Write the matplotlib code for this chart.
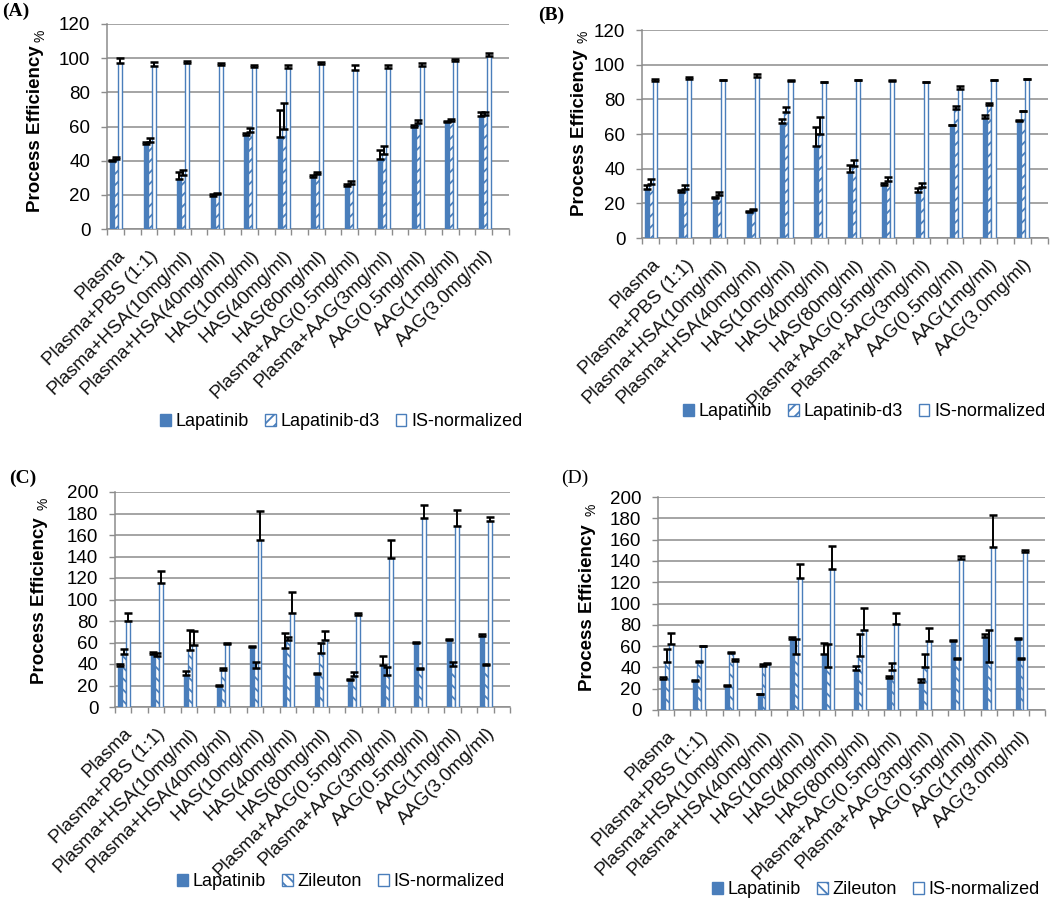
import numpy as np
import matplotlib
matplotlib.use("Agg")
import matplotlib.pyplot as plt
from matplotlib.patches import Patch

plt.rcParams['font.family'] = ['Liberation Sans', 'DejaVu Sans']
plt.rcParams['hatch.linewidth'] = 1.3

labels = ["Plasma", "Plasma+PBS (1:1)", "Plasma+HSA(10mg/ml)", "Plasma+HSA(40mg/ml)",
          "HAS(10mg/ml)", "HAS(40mg/ml)", "HAS(80mg/ml)", "Plasma+AAG(0.5mg/ml)",
          "Plasma+AAG(3mg/ml)", "AAG(0.5mg/ml)", "AAG(1mg/ml)", "AAG(3.0mg/ml)"]

# panel A: lapatinib / lapatinib-d3 / IS-normalized
a_lap = [40, 49.5, 29.5, 19.5, 55, 54, 30.5, 25, 41, 59.5, 62.5, 66]
a_lap_err = [0.5, 1.5, 4, 0.8, 1.4, 15.5, 1.1, 1.5, 5.5, 1.2, 0.7, 2.7]
a_d3 = [41, 51, 31.5, 20.5, 57, 58.5, 32, 26.5, 44, 62, 63, 66.5]
a_d3_err = [1.3, 2, 3, 0.8, 2, 15.5, 1.4, 1.5, 4.6, 2, 1.2, 2.2]
a_is = [97, 95.5, 97, 96, 95, 94.5, 96.5, 93, 94.5, 95.5, 98.5, 101.5]
a_is_err = [3.3, 2.3, 1.3, 1, 0.8, 1.3, 1.3, 2.8, 1.3, 1.5, 1.2, 1.3]

# panel B
b_lap = [28.5, 26.5, 23, 15, 66.5, 53, 38, 30.5, 26.5, 65, 69, 67.5]
b_lap_err = [1.8, 1.3, 0.5, 0.3, 2, 11.3, 4, 1.2, 2.3, 0.3, 2, 0.5]
b_d3 = [31, 28.5, 25, 16, 72.5, 60, 41.5, 33, 29.5, 74.5, 76.5, 73]
b_d3_err = [3, 1.8, 1.3, 0.7, 3, 10, 3.5, 2, 2, 1.7, 1.5, 0.5]
b_is = [90.5, 92, 91, 93, 90.5, 90, 91, 90.5, 90, 86, 91, 91.5]
b_is_err = [1.3, 0.7, 0.2, 1.7, 0.5, 0.2, 0.2, 0.5, 0.2, 1.7, 0.2, 0.3]

# panel C: lapatinib / zileuton / IS-normalized
c_lap = [38.5, 49.5, 29.5, 19.5, 55.5, 55, 30.5, 25, 39, 60, 62, 66.5]
c_lap_err = [1.7, 1.5, 4, 0.9, 1.1, 14, 1.3, 1.3, 8.3, 0.9, 1.7, 1.5]
c_zil = [49, 47, 53, 34, 36, 62, 50, 28.5, 30, 35, 38, 39.5]
c_zil_err = [5, 3.4, 19, 1.9, 5.7, 3.5, 9.6, 3.6, 7.4, 0.9, 3.4, 0.7]
c_is = [80, 115, 58, 58.5, 155, 87, 62, 86, 139, 176, 168, 173]
c_is_err = [7, 11.7, 12.8, 1.2, 27, 20, 8.8, 1.2, 16.8, 12, 15.6, 3.8]

# panel D
d_lap = [29, 27, 23, 15, 66.5, 53, 38, 30, 26.5, 65, 69, 67]
d_lap_err = [1.6, 0.8, 0.4, 0, 1.9, 10, 3.6, 1.6, 2.3, 0.6, 2.6, 0.2]
d_zil = [45.5, 45.5, 53.5, 41, 53, 40.5, 51, 37.5, 40, 48, 45.5, 48]
d_zil_err = [11.5, 0.5, 0.9, 2.4, 14, 21.4, 20, 6.5, 12.8, 1, 30, 1]
d_is = [62, 60, 46, 43, 124, 132, 75, 81, 65, 142, 153, 148]
d_is_err = [10.5, 0.5, 1.5, 1.4, 13.5, 21.8, 20.6, 10.3, 12, 2.4, 29.8, 2]

BLUE = '#4A7EBB'
GRID = '#8C8C8C'
W, H = 1050, 899


def px(x0, y0, x1, y1):
    return [x0 / W, 1 - y1 / H, (x1 - x0) / W, (y1 - y0) / H]


def panel(rect, series, names, hatch2, ymax, title, title_xy, title_bold,
          ylab_xy, pct_xy, leg_xy):
    ax = fig.add_axes(px(*rect))
    x = np.arange(len(labels))
    w = 0.12
    offs = [0.15, 0.27, 0.39]
    styles = [dict(color=BLUE, edgecolor=BLUE),
              dict(color='white', edgecolor=BLUE, hatch=hatch2),
              dict(color='white', edgecolor=BLUE)]
    for (vals, errs), off, st in zip(series, offs, styles):
        ax.bar(x + off, vals, w, linewidth=1.0, zorder=3, **st)
        ax.errorbar(x + off, vals, yerr=[np.zeros(len(errs)), errs], fmt='none',
                    ecolor='black', elinewidth=1.4, capsize=3.2, capthick=1.8, zorder=4)
    ax.set_xlim(0, len(labels))
    ax.set_ylim(0, ymax)
    ax.set_yticks(np.arange(0, ymax + 1, 20))
    ax.set_xticks(x + 0.27)
    ax.set_xticklabels(labels, rotation=45, ha='right', va='top',
                       rotation_mode='anchor', fontsize=13.5, color='#111111')
    ax.set_xticks(np.arange(0, len(labels) + 0.01, 0.5), minor=True)
    ax.tick_params(axis='x', which='major', length=0, pad=13)
    ax.tick_params(axis='x', which='minor', length=4, color=GRID, width=1)
    ax.tick_params(axis='y', length=4, color=GRID, width=1, pad=8, labelsize=13.5)
    ax.yaxis.grid(True, color=GRID, linewidth=1.1, zorder=0)
    ax.set_axisbelow(True)
    for s in ['top', 'right']:
        ax.spines[s].set_visible(False)
    for s in ['left', 'bottom']:
        ax.spines[s].set_color(GRID)
        ax.spines[s].set_linewidth(1.1)

    fig.text(title_xy[0] / W, 1 - title_xy[1] / H, title, family='Liberation Serif',
             fontsize=14, fontweight='bold' if title_bold else 'normal',
             ha='center', va='center')
    fig.text(ylab_xy[0] / W, 1 - ylab_xy[1] / H, 'Process Efficiency', rotation=90,
             fontsize=13.5, fontweight='bold', ha='center', va='center')
    fig.text(pct_xy[0] / W, 1 - pct_xy[1] / H, '%', rotation=90, fontsize=10,
             ha='center', va='center')

    handles = [Patch(facecolor=BLUE, edgecolor=BLUE),
               Patch(facecolor='white', edgecolor=BLUE, hatch=hatch2),
               Patch(facecolor='white', edgecolor=BLUE)]
    ax.legend(handles, names, loc='center', ncol=3, frameon=False,
              bbox_to_anchor=(leg_xy[0] / W, 1 - leg_xy[1] / H),
              bbox_transform=fig.transFigure, fontsize=13,
              handlelength=0.6, handleheight=0.6, handletextpad=0.25,
              columnspacing=0.9)
    return ax


fig = plt.figure(figsize=(10.5, 8.99), dpi=100)

panel((107, 24, 509, 229),
      [(a_lap, a_lap_err), (a_d3, a_d3_err), (a_is, a_is_err)],
      ['Lapatinib', 'Lapatinib-d3', 'IS-normalized'], '///', 120,
      '(A)', (16, 11), True, (36, 129), (40, 36), (341, 422))
panel((642, 30, 1048, 238),
      [(b_lap, b_lap_err), (b_d3, b_d3_err), (b_is, b_is_err)],
      ['Lapatinib', 'Lapatinib-d3', 'IS-normalized'], '///', 120,
      '(B)', (551, 15), True, (580, 133), (584, 37), (864, 412))
panel((115, 492, 510, 707),
      [(c_lap, c_lap_err), (c_zil, c_zil_err), (c_is, c_is_err)],
      ['Lapatinib', 'Zileuton', 'IS-normalized'], '\\\\\\', 200,
      '(C)', (23, 478), True, (40, 601), (43, 504), (341, 882))
panel((658, 497, 1045, 710),
      [(d_lap, d_lap_err), (d_zil, d_zil_err), (d_is, d_is_err)],
      ['Lapatinib', 'Zileuton', 'IS-normalized'], '\\\\\\', 200,
      '(D)', (575, 478), False, (587, 608), (591, 510), (876, 890))

fig.savefig('out.png', dpi=100)
